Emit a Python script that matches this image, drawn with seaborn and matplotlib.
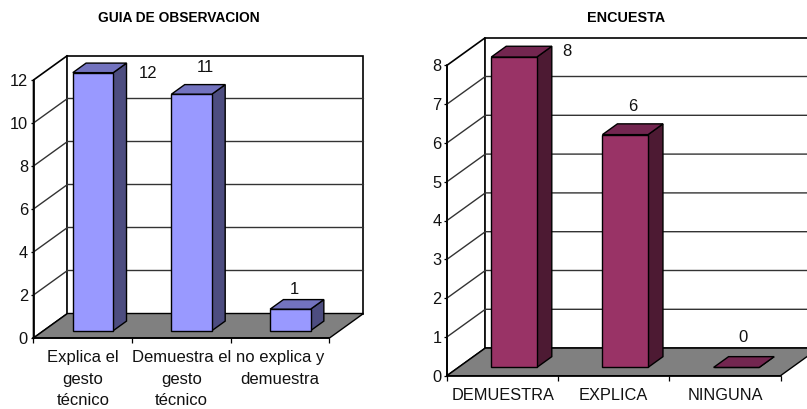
import matplotlib
matplotlib.use("Agg")
import matplotlib.pyplot as plt
from matplotlib.patches import Polygon
from matplotlib.transforms import Affine2D
import pandas as pd
import seaborn as sns

# Survey results
guia_labels = ["Explica el\ngesto\ntécnico", "Demuestra el\ngesto\ntécnico", "no explica y\ndemuestra"]
guia_values = [12, 11, 1]
guia_ticks = [0, 2, 4, 6, 8, 10, 12]

encuesta_labels = ["DEMUESTRA", "EXPLICA", "NINGUNA"]
encuesta_values = [8, 6, 0]
encuesta_ticks = [0, 1, 2, 3, 4, 5, 6, 7, 8]

W, H = 807, 409

sns.set_style("white")
plt.rcParams["font.family"] = ["Liberation Sans", "DejaVu Sans"]
fig = plt.figure(figsize=(W / 100, H / 100), dpi=100, facecolor="white")


def box_chart(rect, depth_px, labels, values, ticks, colors, label_offsets, title, title_xy, title_size, pad, label_size):
    """Draw a column chart with an oblique box-like projection."""
    left, right, bottom, top = rect
    ax = fig.add_axes([left / W, (H - bottom) / H, (right - left) / W, (bottom - top) / H])
    front, side, cap = colors
    df = pd.DataFrame({"cat": labels, "val": values})
    sns.barplot(data=df, x="cat", y="val", ax=ax, color=front, saturation=1, width=0.41,
                edgecolor="black", linewidth=1, zorder=5)
    ymax = ticks[-1]
    ax.set_xlim(-0.5, 2.5)
    ax.set_ylim(0, ymax)
    ax.set_xlabel("")
    ax.set_ylabel("")

    # depth vector expressed in data units
    ddx = depth_px[0] / ((right - left) / 3)
    ddy = depth_px[1] / ((bottom - top) / ymax)

    def shifted(x, y, d):
        return (x + d * ddx, y + d * ddy)

    def poly(points, fc, ec="black", lw=1.0, z=2):
        ax.add_patch(Polygon(points, closed=True, facecolor=fc, edgecolor=ec, linewidth=lw,
                             zorder=z, clip_on=False, joinstyle="miter"))

    # walls and floor
    x0, x1 = -0.5, 2.5
    poly([shifted(x0, 0, 0), shifted(x0, ymax, 0), shifted(x0, ymax, 1), shifted(x0, 0, 1)], "white", lw=1.2, z=1)
    poly([shifted(x0, 0, 1), shifted(x0, ymax, 1), shifted(x1, ymax, 1), shifted(x1, 0, 1)], "white", lw=1.2, z=1)
    for t in ticks[1:-1]:
        a, b, c = shifted(x0, t, 0), shifted(x0, t, 1), shifted(x1, t, 1)
        ax.plot([a[0], b[0], c[0]], [a[1], b[1], c[1]], color="#333333", lw=1, zorder=1.5,
                clip_on=False, solid_joinstyle="miter")
    poly([shifted(x0, 0, 0), shifted(x1, 0, 0), shifted(x1, 0, 1), shifted(x0, 0, 1)], "#808080", lw=1.0, z=2)

    # columns: front faces come from the bar plot, sides and caps follow them in depth
    d0, d1 = 0.30, 0.69
    for patch, v in zip(ax.patches[:len(values)], values):
        xa, xb = patch.get_x(), patch.get_x() + patch.get_width()
        patch.set_transform(Affine2D().translate(d0 * ddx, d0 * ddy) + ax.transData)
        patch.set_clip_on(False)
        patch.set_zorder(5)
        poly([shifted(xb, 0, d0), shifted(xb, v, d0), shifted(xb, v, d1), shifted(xb, 0, d1)], side, z=4)
        poly([shifted(xa, v, d0), shifted(xb, v, d0), shifted(xb, v, d1), shifted(xa, v, d1)], cap, z=6)

    # value labels, placed with pixel offsets from each category at its value
    for i, (v, off) in enumerate(zip(values, label_offsets)):
        ax.annotate(str(v), (i, v), xytext=(off[0] * 0.72, off[1] * 0.72), textcoords="offset points",
                    ha="center", va="center", fontsize=12, color="#111111", zorder=8, annotation_clip=False)

    # axes furniture
    sns.despine(ax=ax, top=True, right=True)
    for s in ("left", "bottom"):
        ax.spines[s].set_linewidth(1.2)
        ax.spines[s].set_color("black")
        ax.spines[s].set_zorder(7)
    ax.set_yticks(ticks)
    ax.set_xticks([0, 1, 2], labels)
    ax.set_xticks([-0.5, 0.5, 1.5, 2.5], minor=True)
    ax.tick_params(axis="x", which="major", length=0, pad=pad, labelsize=label_size, labelcolor="#111111")
    ax.tick_params(axis="x", which="minor", length=3.5, width=0.9, color="black", bottom=True)
    ax.tick_params(axis="y", length=2.5, width=0.9, color="black", left=True, pad=1.5,
                   labelsize=11.8, labelcolor="#111111")
    for lab in ax.get_xticklabels():
        lab.set_linespacing(1.55)
        lab.set_multialignment("center")

    fig.text(title_xy[0] / W, 1 - title_xy[1] / H, title, ha="center", va="center",
             fontsize=title_size, fontweight="bold", color="black")
    return ax


box_chart((33.5, 329.5, 338, 80), (34, 24.5), guia_labels, guia_values, guia_ticks,
          ("#9999FF", "#4D4D80", "#7373BF"),
          [(65.5, 6), (24, 33.5), (14, 27.5)],
          "GUIA DE OBSERVACION", (179, 18), 9.9, 8.8, 12)

box_chart((447, 780.5, 375.7, 65.3), (38.3, 27.6), encuesta_labels, encuesta_values, encuesta_ticks,
          ("#993366", "#4D1A33", "#732650"),
          [(64.5, 14.3), (19, 36), (18, 37.7)],
          "ENCUESTA", (626, 18), 10.4, 9, 11.8)

fig.savefig("out.png", dpi=100)
